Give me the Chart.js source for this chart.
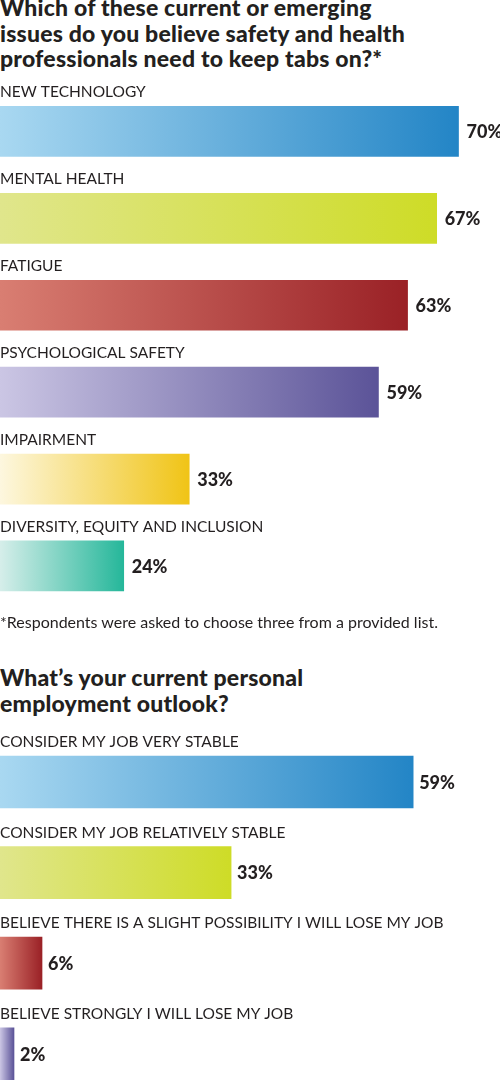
<!doctype html>
<html lang="en">
  <head>
    <meta charset="UTF-8" />
    <title>Safety survey bars</title>
    <style>
      html, body {
        margin: 0;
        padding: 0;
        width: 500px;
        height: 1082px;
        overflow: hidden;
        background: #fff;
        font-family: Lato, sans-serif;
        color: #231f20;
      }
      .title {
        position: absolute;
        left: 0;
        font-size: 23px;
        font-weight: 900;
        letter-spacing: 0.2px;
        line-height: 25.5px;
        width: 520px;
      }
      .note {
        position: absolute;
        left: 0;
        top: 613px;
        font-size: 16px;
        line-height: 18px;
      }
      canvas {
        position: absolute;
        left: 0;
      }
    </style>
  </head>
  <body>
    <div class="title" style="top: -5px">Which of these current or emerging<br />issues do you believe safety and health<br />professionals need to keep tabs on?*</div>
    <canvas id="issues" width="500" height="540" style="top: 75px"></canvas>
    <div class="note">*Respondents were asked to choose three from a provided list.</div>
    <div class="title" style="top: 665px">What’s your current personal<br />employment outlook?</div>
    <canvas id="outlook" width="500" height="375" style="top: 725px"></canvas>

    <script src="https://cdn.jsdelivr.net/npm/chart.js"></script>
    <script>
      // chart 1 data
      const issueLabels = [
        'NEW TECHNOLOGY',
        'MENTAL HEALTH',
        'FATIGUE',
        'PSYCHOLOGICAL SAFETY',
        'IMPAIRMENT',
        'DIVERSITY, EQUITY AND INCLUSION',
      ];
      const issueValues = [70, 67, 63, 59, 33, 24];

      // chart 2 data
      const outlookLabels = [
        'CONSIDER MY JOB VERY STABLE',
        'CONSIDER MY JOB RELATIVELY STABLE',
        'BELIEVE THERE IS A SLIGHT POSSIBILITY I WILL LOSE MY JOB',
        'BELIEVE STRONGLY I WILL LOSE MY JOB',
      ];
      const outlookValues = [59, 33, 6, 2];

      // gradient end colours, light -> dark
      const blue = ['#a9d8f1', '#2385c6'];
      const lime = ['#e0e68c', '#cedc27'];
      const red = ['#d97e72', '#9a2126'];
      const purple = ['#cbc6e4', '#5b5398'];
      const gold = ['#fdf7df', '#f0c416'];
      const teal = ['#d6eeea', '#25b79a'];

      function gradientFill(palette) {
        return (c) => {
          const chart = c.chart;
          const area = chart.chartArea;
          const stops = palette[c.dataIndex % palette.length];
          if (!area || c.type !== 'data') return stops[1];
          const x1 = chart.scales.x.getPixelForValue(c.raw);
          const g = chart.ctx.createLinearGradient(area.left, 0, x1, 0);
          g.addColorStop(0, stops[0]);
          g.addColorStop(1, stops[1]);
          return g;
        };
      }

      // category label above each bar, value to the right
      const barText = {
        id: 'barText',
        afterDatasetsDraw(chart, args, opts) {
          const ctx = chart.ctx;
          const meta = chart.getDatasetMeta(0);
          const values = chart.data.datasets[0].data;
          ctx.save();
          ctx.fillStyle = '#231f20';
          ctx.textAlign = 'left';
          meta.data.forEach((bar, i) => {
            const top = bar.y - bar.height / 2;
            ctx.font = '15.5px Lato';
            ctx.textBaseline = 'alphabetic';
            ctx.fillText(chart.data.labels[i], chart.chartArea.left, top - 9);
            ctx.font = '900 18px Lato';
            ctx.textBaseline = 'middle';
            ctx.fillText(values[i] + '%', bar.x + opts.gap, bar.y + 1);
          });
          ctx.restore();
        },
      };

      function makeChart(id, labels, values, palette, opts) {
        return new Chart(document.getElementById(id), {
          type: 'bar',
          data: {
            labels: labels,
            datasets: [
              {
                data: values,
                backgroundColor: gradientFill(palette),
                borderWidth: 0,
                barThickness: opts.thickness,
              },
            ],
          },
          options: {
            indexAxis: 'y',
            responsive: false,
            animation: false,
            layout: { padding: { top: opts.padTop, bottom: opts.padBottom, left: 0, right: 0 } },
            scales: {
              x: { display: false, min: opts.min, max: opts.max },
              y: { display: false },
            },
            plugins: {
              legend: { display: false },
              tooltip: { enabled: false },
              barText: { gap: opts.gap },
            },
          },
          plugins: [barText],
        });
      }

      makeChart('issues', issueLabels, issueValues, [blue, lime, red, purple, gold, teal], {
        thickness: 50,
        padTop: 13,
        padBottom: 5.6,
        min: 7,
        max: 75.7,
        gap: 8,
      });

      makeChart('outlook', outlookLabels, outlookValues, [blue, lime, red, purple], {
        thickness: 52,
        padTop: 11.7,
        padBottom: 1,
        min: 0,
        max: 71.4,
        gap: 6,
      });
    </script>
  </body>
</html>
